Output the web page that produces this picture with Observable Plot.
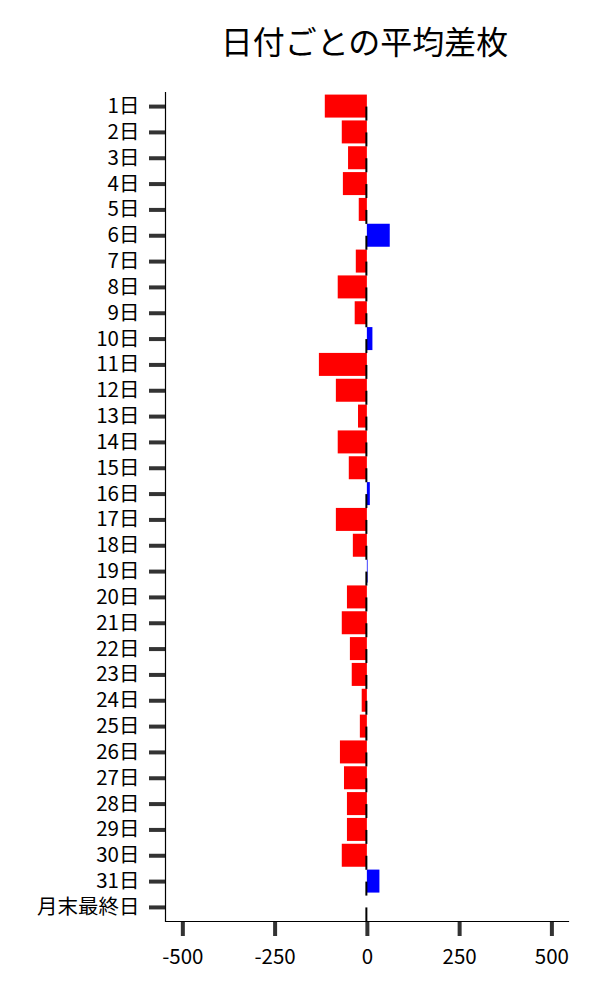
<!DOCTYPE html>
<html>
<head>
<meta charset="utf-8">
<script src="https://cdn.jsdelivr.net/npm/d3@7"></script>
<script src="https://cdn.jsdelivr.net/npm/@observablehq/plot@0.6"></script>
<style>
  body { margin: 0; background: #fff; font-family: "Noto Sans CJK JP", sans-serif; }
  #title { height: 84px; line-height: 80px; margin-left: 163px; width: 403px; text-align: center; font-size: 32px; color: #000; }
</style>
</head>
<body>
<div id="title">日付ごとの平均差枚</div>
<div id="chart"></div>
<script>
const days = ["1日","2日","3日","4日","5日","6日","7日","8日","9日","10日","11日","12日","13日","14日","15日","16日","17日","18日","19日","20日","21日","22日","23日","24日","25日","26日","27日","28日","29日","30日","31日","月末最終日"];
const values = [-114,-68,-51,-65,-22,62,-30,-79,-33,15,-130,-84,-24,-79,-49,8,-84,-38,2,-54,-68,-46,-41,-14,-19,-73,-62,-54,-54,-68,34,0];
const xTicks = [-500,-250,0,250,500];
const xDomain = [-547, 545];

const data = days.map((d, i) => ({day: d, value: values[i]}));
const font = "Noto Sans CJK JP";

const chart = Plot.plot({
  width: 600,
  height: 916,
  marginTop: 8,
  marginBottom: 79,
  marginLeft: 165,
  marginRight: 32,
  style: {fontFamily: font, background: "#fff"},
  x: {domain: xDomain, axis: null, label: null},
  y: {domain: days, axis: null, label: null, round: false, paddingInner: 0.11, paddingOuter: 0.1},
  marks: [
    Plot.barX(data, {x: "value", y: "day", fill: d => d.value >= 0 ? "#0000ff" : "#ff0000"}),
    Plot.tickX(data, {x: 0, y: "day", stroke: "#000", strokeWidth: 2, dx: -1, insetTop: 12, insetBottom: -3}),
    Plot.axisY({label: null, tickSize: 16, tickPadding: 10, stroke: "#333", strokeWidth: 4, fill: "#000", fontSize: 20.5, fontFamily: font}),
    Plot.axisX({label: null, ticks: xTicks, tickSize: 15, tickPadding: 13, stroke: "#333", strokeWidth: 4, fill: "#000", fontSize: 20.5, fontFamily: font, tickFormat: d => String(d)}),
    Plot.ruleX([xDomain[0]], {stroke: "#000", strokeWidth: 1.2}),
    Plot.frame({anchor: "bottom", stroke: "#000", strokeWidth: 1.2})
  ]
});
document.getElementById("chart").appendChild(chart);
</script>
</body>
</html>
